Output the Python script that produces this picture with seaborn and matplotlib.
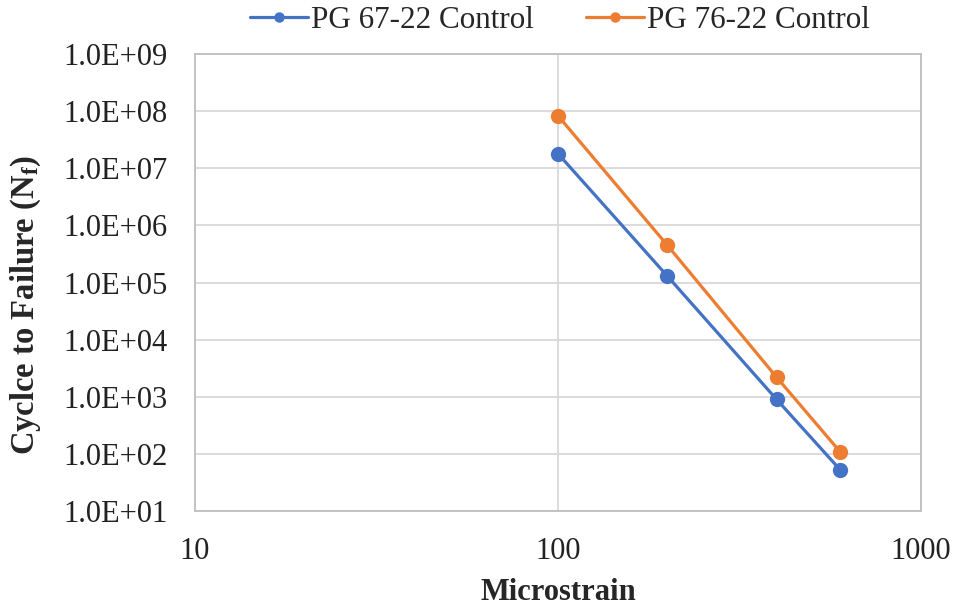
import numpy as np
import pandas as pd
import matplotlib
matplotlib.use("Agg")
import matplotlib.pyplot as plt
from matplotlib.ticker import FuncFormatter, FixedLocator, NullLocator
import seaborn as sns

# Fatigue data: microstrain level vs. cycles to failure
microstrain = [100, 200, 400, 600]
pg6722_cycles = [1.8e7, 1.3e5, 9.0e2, 52]
pg7622_cycles = [8.3e7, 4.5e5, 2.2e3, 107]
series_names = ["PG 67-22 Control", "PG 76-22 Control"]
series_colors = ["#4472C4", "#ED7D31"]
x_ticks = [10, 100, 1000]
y_ticks = [1e1, 1e2, 1e3, 1e4, 1e5, 1e6, 1e7, 1e8, 1e9]

df = pd.DataFrame({
    "Microstrain": microstrain * 2,
    "Cycles": pg6722_cycles + pg7622_cycles,
    "Binder": [series_names[0]] * len(microstrain) + [series_names[1]] * len(microstrain),
})

sns.set_theme(style="white")
plt.rcParams["font.family"] = ["Liberation Serif", "DejaVu Serif"]
plt.rcParams["mathtext.fontset"] = "custom"
plt.rcParams["mathtext.rm"] = "Liberation Serif"
plt.rcParams["mathtext.it"] = "Liberation Serif:italic"
plt.rcParams["mathtext.bf"] = "Liberation Serif:bold"

fig = plt.figure(figsize=(9.57, 6.08), dpi=100)
ax = fig.add_axes([0.2038, 0.1595, 0.7586, 0.7516])

sns.lineplot(
    data=df, x="Microstrain", y="Cycles", hue="Binder",
    palette=dict(zip(series_names, series_colors)),
    marker="o", markersize=11, markeredgewidth=0, linewidth=2.3,
    ax=ax, legend=True, zorder=3,
)

ax.set_xscale("log")
ax.set_yscale("log")
ax.set_xlim(10, 1000)
ax.set_ylim(1e1, 1e9)
ax.xaxis.set_major_locator(FixedLocator(x_ticks))
ax.xaxis.set_minor_locator(NullLocator())
ax.yaxis.set_major_locator(FixedLocator(y_ticks))
ax.yaxis.set_minor_locator(NullLocator())
ax.xaxis.set_major_formatter(FuncFormatter(lambda v, p: f"{int(round(v))}"))
ax.yaxis.set_major_formatter(FuncFormatter(lambda v, p: f"{v:.1E}"))

ax.grid(True, which="major", color="#d9d9d9", linewidth=1.3)
ax.set_axisbelow(True)
for s in ax.spines.values():
    s.set_color("#bfbfbf")
    s.set_linewidth(1.3)
ax.tick_params(axis="both", length=0, labelsize=22, colors="#222222")
ax.tick_params(axis="y", pad=20)
ax.tick_params(axis="x", pad=19)

ax.set_xlabel("Microstrain", fontsize=22, fontweight="bold", labelpad=8)
ax.set_ylabel(r"Cyclce to Failure (N$_\mathbf{f}$)", fontsize=23.5, fontweight="bold")
ax.yaxis.set_label_coords(-0.21, 0.45)

# Move the legend above the plot area, centred on the figure
handles, labels = ax.get_legend_handles_labels()
ax.get_legend().remove()
leg = fig.legend(
    handles, labels, loc="center", bbox_to_anchor=(0.585, 0.966),
    ncol=2, frameon=False, fontsize=22.4, handlelength=1.87,
    handletextpad=0.1, columnspacing=1.68, borderaxespad=0.0,
)
for h in leg.legend_handles:
    h.set_markersize(7.5)

fig.savefig("out.png", dpi=100)
